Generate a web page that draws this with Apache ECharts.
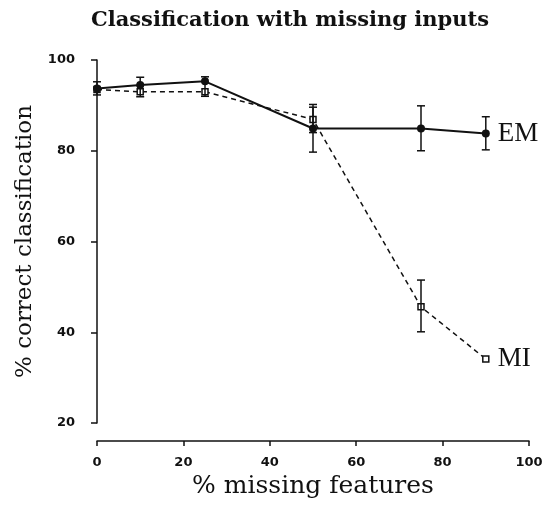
<!DOCTYPE html>
<html lang="en">
<head>
  <meta charset="UTF-8">
  <title>Classification with missing inputs</title>
  <style>
    html, body {
      margin: 0;
      padding: 0;
      width: 100%;
      height: 100%;
      background: #fff;
    }
    .main {
      width: 549px;
      height: 508px;
    }
  </style>
</head>
<body>
<div class="main"></div>
<script src="https://cdn.jsdelivr.net/npm/echarts@6/dist/echarts.min.js"></script>
<script>
  // % missing features
  var missing = [0, 10, 25, 50, 75, 90];

  // EM: mean and error bar ends
  var emMean = [93.7, 94.5, 95.3, 84.9, 84.9, 83.8];
  var emLow  = [92.3, 91.9, 92.0, 79.7, 80.0, 80.2];
  var emHigh = [95.2, 96.2, 96.3, 89.6, 89.9, 87.5];

  // MI: mean and error bar ends (null = no bar drawn)
  var miMean = [93.5, 93.0, 93.0, 86.9, 45.6, 34.1];
  var miLow  = [null, null, null, 84.0, 40.1, null];
  var miHigh = [null, null, null, 90.2, 51.5, null];

  var serif = '"DejaVu Serif", "Liberation Serif", serif';

  function pairs(xs, ys) {
    return xs.map(function(x, i) { return [x, ys[i]]; });
  }

  function bars(xs, lo, hi) {
    var out = [];
    xs.forEach(function(x, i) {
      if (lo[i] != null) out.push([x, lo[i], hi[i]]);
    });
    return out;
  }

  function renderBar(params, api) {
    var top = api.coord([api.value(0), api.value(2)]);
    var bot = api.coord([api.value(0), api.value(1)]);
    var w = 4;
    var st = { stroke: '#111', lineWidth: 1.5 };
    return {
      type: 'group',
      children: [
        { type: 'line', shape: { x1: top[0], y1: top[1], x2: bot[0], y2: bot[1] }, style: st },
        { type: 'line', shape: { x1: top[0] - w, y1: top[1], x2: top[0] + w, y2: top[1] }, style: st },
        { type: 'line', shape: { x1: bot[0] - w, y1: bot[1], x2: bot[0] + w, y2: bot[1] }, style: st }
      ]
    };
  }

  var myChart = echarts.init(document.querySelector('.main'));

  var endLabel = {
    show: true,
    formatter: '{a}',
    distance: 12,
    fontFamily: '"Liberation Serif", serif',
    fontSize: 27,
    color: '#111'
  };

  var option = {
    animation: false,
    title: {
      text: 'Classification with missing inputs',
      left: 86,
      top: 5,
      textStyle: {
        fontFamily: serif,
        fontWeight: 'bold',
        fontSize: 21,
        color: '#111'
      }
    },
    grid: {
      left: 97,
      right: 20,
      top: 60,
      bottom: 85
    },
    xAxis: {
      type: 'value',
      min: 0,
      max: 100,
      interval: 20,
      offset: 18,
      name: '% missing features',
      nameLocation: 'middle',
      nameGap: 33,
      nameTextStyle: { fontFamily: serif, fontSize: 25, color: '#111' },
      axisLine: { lineStyle: { color: '#111', width: 1.5 } },
      axisTick: { length: 5, lineStyle: { color: '#111', width: 1.5 } },
      axisLabel: { fontFamily: 'DejaVu Sans', fontWeight: 'bold', fontSize: 13, color: '#111', margin: 15 },
      splitLine: { show: false }
    },
    yAxis: {
      type: 'value',
      min: 20,
      max: 100,
      interval: 20,
      offset: 16,
      name: '% correct classification',
      nameLocation: 'middle',
      nameGap: 40,
      nameTextStyle: { fontFamily: serif, fontSize: 23, color: '#111' },
      axisLine: { show: true, lineStyle: { color: '#111', width: 1.5 } },
      axisTick: { show: true, length: 6, lineStyle: { color: '#111', width: 1.5 } },
      axisLabel: { fontFamily: 'DejaVu Sans', fontWeight: 'bold', fontSize: 13, color: '#111', margin: 6 },
      splitLine: { show: false }
    },
    series: [{
      name: 'MI',
      type: 'line',
      data: pairs(missing, miMean),
      symbol: 'rect',
      symbolSize: 6,
      itemStyle: { color: '#fff', borderColor: '#111', borderWidth: 1.5 },
      lineStyle: { color: '#111', width: 1.5, type: [5, 4] },
      endLabel: endLabel,
      clip: false,
      z: 3
    }, {
      name: 'EM',
      type: 'line',
      data: pairs(missing, emMean),
      symbol: 'circle',
      symbolSize: 8,
      itemStyle: { color: '#111' },
      lineStyle: { color: '#111', width: 2 },
      endLabel: endLabel,
      clip: false,
      z: 4
    }, {
      name: 'EM err',
      type: 'custom',
      renderItem: renderBar,
      data: bars(missing, emLow, emHigh),
      encode: { x: 0, y: [1, 2] },
      clip: false,
      z: 5
    }, {
      name: 'MI err',
      type: 'custom',
      renderItem: renderBar,
      data: bars(missing, miLow, miHigh),
      encode: { x: 0, y: [1, 2] },
      clip: false,
      z: 5
    }]
  };

  myChart.setOption(option);
</script>
</body>
</html>
